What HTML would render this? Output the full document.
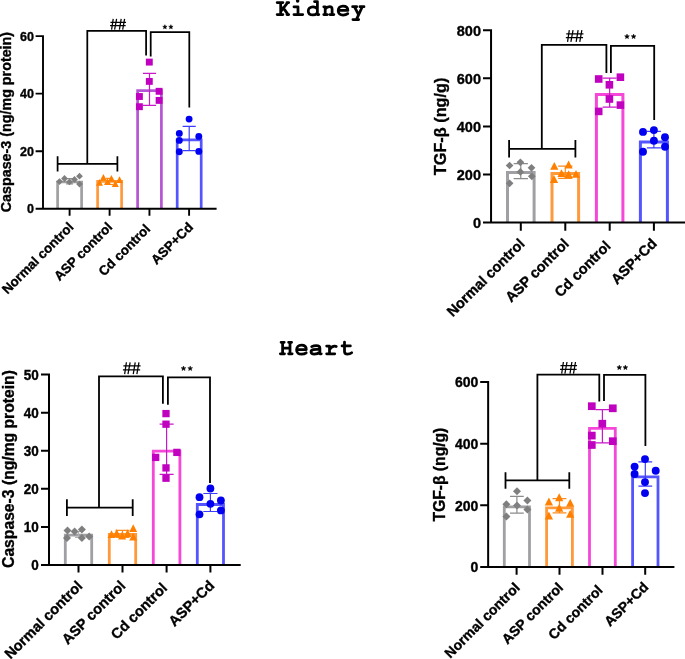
<!DOCTYPE html>
<html><head><meta charset="utf-8"><style>
html,body{margin:0;padding:0;background:#fff;width:685px;height:659px;overflow:hidden}
svg{display:block;will-change:transform;opacity:0.999}
.b{font-family:"Liberation Sans",sans-serif;font-weight:bold;fill:#000;stroke:#000;stroke-width:0.35px}
.r{font-family:"Liberation Sans",sans-serif;font-weight:normal;fill:#000}
</style></head><body>
<svg width="685" height="659" viewBox="0 0 685 659">
<rect width="685" height="659" fill="#fff"/>
<path d="M57.6,208.8 V182 H81.6 V208.8" fill="none" stroke="#a0a0a4" stroke-width="2.7" stroke-linejoin="miter" stroke-linecap="butt"/>
<path d="M97.6,208.8 V181.3 H121.6 V208.8" fill="none" stroke="#ff9a3c" stroke-width="2.7" stroke-linejoin="miter" stroke-linecap="butt"/>
<path d="M137.6,208.8 V90.7 H161.4 V208.8" fill="none" stroke="#b554d4" stroke-width="2.7" stroke-linejoin="miter" stroke-linecap="butt"/>
<path d="M177.2,208.8 V139.9 H201.2 V208.8" fill="none" stroke="#5555ff" stroke-width="2.7" stroke-linejoin="miter" stroke-linecap="butt"/>
<path d="M69.6,178.6 V183.8 M66.1,178.6 H73.1 M66.1,183.8 H73.1" stroke="#8c8c8c" stroke-width="1.2" fill="none"/>
<polygon points="59.5,178.2 62.9,181.6 59.5,185 56.1,181.6" fill="#7f7f7f"/>
<polygon points="64.5,175.1 67.9,178.5 64.5,181.9 61.1,178.5" fill="#7f7f7f"/>
<polygon points="69.5,178.5 72.9,181.9 69.5,185.3 66.1,181.9" fill="#7f7f7f"/>
<polygon points="74.5,176 77.9,179.4 74.5,182.8 71.1,179.4" fill="#7f7f7f"/>
<polygon points="79.5,172.8 82.9,176.2 79.5,179.6 76.1,176.2" fill="#7f7f7f"/>
<polygon points="79.5,180.7 82.9,184.1 79.5,187.5 76.1,184.1" fill="#7f7f7f"/>
<path d="M109.6,178.3 V184.5 M106.1,178.3 H113.1 M106.1,184.5 H113.1" stroke="#ff8a1c" stroke-width="1.2" fill="none"/>
<polygon points="99.5,179 103,185.8 96,185.8" fill="#ff8000"/>
<polygon points="103.4,174 106.9,180.8 99.9,180.8" fill="#ff8000"/>
<polygon points="111.4,174.9 114.9,181.7 107.9,181.7" fill="#ff8000"/>
<polygon points="107.5,178.2 111,185 104,185" fill="#ff8000"/>
<polygon points="115.3,180.2 118.8,187 111.8,187" fill="#ff8000"/>
<polygon points="119.5,176.2 123,183 116,183" fill="#ff8000"/>
<path d="M149.5,73.4 V105.4 M142.9,73.4 H156.1 M142.9,105.4 H156.1" stroke="#c818c8" stroke-width="1.2" fill="none"/>
<rect x="145.85" y="58.65" width="6.9" height="6.9" fill="#c000c0"/>
<rect x="145.85" y="77.95" width="6.9" height="6.9" fill="#c000c0"/>
<rect x="135.95" y="93.05" width="6.9" height="6.9" fill="#c000c0"/>
<rect x="155.65" y="87.85" width="6.9" height="6.9" fill="#c000c0"/>
<rect x="155.65" y="96.95" width="6.9" height="6.9" fill="#c000c0"/>
<rect x="135.95" y="103.25" width="6.9" height="6.9" fill="#c000c0"/>
<path d="M189.2,126.4 V150.6 M182.65,126.4 H195.75 M182.65,150.6 H195.75" stroke="#3c3cff" stroke-width="1.2" fill="none"/>
<circle cx="189.1" cy="119.1" r="3.45" fill="#0000f0"/>
<circle cx="179.3" cy="133.4" r="3.45" fill="#0000f0"/>
<circle cx="198.8" cy="136.4" r="3.45" fill="#0000f0"/>
<circle cx="179.3" cy="140.4" r="3.45" fill="#0000f0"/>
<circle cx="179.3" cy="151.7" r="3.45" fill="#0000f0"/>
<circle cx="198.8" cy="151.4" r="3.45" fill="#0000f0"/>
<path d="M43,35.15 V208.8 M35.6,208.8 H216.6 M35.6,208.8 H43 M35.6,151.2 H43 M35.6,93.65 H43 M35.6,36.1 H43 M69.6,208.8 V215.7 M109.6,208.8 V215.7 M149.45,208.8 V215.7 M189.1,208.8 V215.7" stroke="#000" stroke-width="1.9" fill="none" stroke-linecap="butt"/>
<text transform="translate(34,208.9) scale(1,1)" y="4.47" text-anchor="end" class="b" font-size="12.5">0</text>
<text transform="translate(34,151.3) scale(1,1)" y="4.47" text-anchor="end" class="b" font-size="12.5">20</text>
<text transform="translate(34,93.75) scale(1,1)" y="4.47" text-anchor="end" class="b" font-size="12.5">40</text>
<text transform="translate(34,36.2) scale(1,1)" y="4.47" text-anchor="end" class="b" font-size="12.5">60</text>
<text transform="translate(11.3,122.1) rotate(-90)" text-anchor="middle" class="b" font-size="14.3">Caspase-3 (ng/mg protein)</text>
<text transform="translate(74.4,227.9) rotate(-45)" text-anchor="end" class="b" font-size="13.3">Normal control</text>
<text transform="translate(113.2,227.9) rotate(-45)" text-anchor="end" class="b" font-size="13.3">ASP control</text>
<text transform="translate(151.05,229.8) rotate(-45)" text-anchor="end" class="b" font-size="13.3">Cd control</text>
<text transform="translate(193.9,227.9) rotate(-45)" text-anchor="end" class="b" font-size="13.3">ASP+Cd</text>
<path d="M57.6,163.8 H117.4 M57.6,156.2 V171.6 M117.4,156.2 V171.6" stroke="#000" stroke-width="1.75" fill="none"/>
<path d="M87.3,163.8 V30.9 H146.1 V55.5" stroke="#000" stroke-width="1.75" fill="none" stroke-linejoin="miter"/>
<path d="M150.7,56.5 V32.2 H189.3 V107.4" stroke="#000" stroke-width="1.75" fill="none" stroke-linejoin="miter"/>
<path d="M111.61,29.7 L113.21,18.94 M114.62,29.7 L116.59,18.94 M119.41,29.7 L121.2,18.94 M122.7,29.7 L124.58,18.94 M110.44,22.25 H126.04 M110.06,25.74 H125.66" stroke="#000" stroke-width="1.25" fill="none"/>
<polygon points="164.9,24.7 165.47,26.22 167.09,26.29 165.82,27.3 166.25,28.86 164.9,27.97 163.55,28.86 163.98,27.3 162.71,26.29 164.33,26.22" fill="#000" stroke="#000" stroke-width="0.5" stroke-linejoin="round"/>
<polygon points="170.9,24.7 171.47,26.22 173.09,26.29 171.82,27.3 172.25,28.86 170.9,27.97 169.55,28.86 169.98,27.3 168.71,26.29 170.33,26.22" fill="#000" stroke="#000" stroke-width="0.5" stroke-linejoin="round"/>
<path d="M507.5,222.6 V172.5 H534.1 V222.6" fill="none" stroke="#a0a0a4" stroke-width="3" stroke-linejoin="miter" stroke-linecap="butt"/>
<path d="M552,222.6 V173.4 H578.6 V222.6" fill="none" stroke="#ff9a3c" stroke-width="3" stroke-linejoin="miter" stroke-linecap="butt"/>
<path d="M596.4,222.6 V94.4 H622.9 V222.6" fill="none" stroke="#f548d8" stroke-width="3" stroke-linejoin="miter" stroke-linecap="butt"/>
<path d="M640.4,222.6 V141.9 H667.4 V222.6" fill="none" stroke="#5555ff" stroke-width="3" stroke-linejoin="miter" stroke-linecap="butt"/>
<path d="M520.8,163.6 V178.6 M513.65,163.6 H527.95 M513.65,178.6 H527.95" stroke="#8c8c8c" stroke-width="1.2" fill="none"/>
<polygon points="509.6,161.65 513.45,165.5 509.6,169.35 505.75,165.5" fill="#7f7f7f"/>
<polygon points="520.4,158.45 524.25,162.3 520.4,166.15 516.55,162.3" fill="#7f7f7f"/>
<polygon points="531.5,163.95 535.35,167.8 531.5,171.65 527.65,167.8" fill="#7f7f7f"/>
<polygon points="520.4,168.05 524.25,171.9 520.4,175.75 516.55,171.9" fill="#7f7f7f"/>
<polygon points="531.8,172.45 535.65,176.3 531.8,180.15 527.95,176.3" fill="#7f7f7f"/>
<polygon points="509.6,179.45 513.45,183.3 509.6,187.15 505.75,183.3" fill="#7f7f7f"/>
<path d="M565.3,166.2 V178.4 M558.15,166.2 H572.45 M558.15,178.4 H572.45" stroke="#ff8a1c" stroke-width="1.2" fill="none"/>
<polygon points="554.3,161.9 558.4,169.7 550.2,169.7" fill="#ff8000"/>
<polygon points="568.6,160.6 572.7,168.4 564.5,168.4" fill="#ff8000"/>
<polygon points="561.5,169.3 565.6,177.1 557.4,177.1" fill="#ff8000"/>
<polygon points="568.6,170.3 572.7,178.1 564.5,178.1" fill="#ff8000"/>
<polygon points="576,169.9 580.1,177.7 571.9,177.7" fill="#ff8000"/>
<polygon points="554,175.1 558.1,182.9 549.9,182.9" fill="#ff8000"/>
<path d="M609.65,78.2 V107.2 M602.65,78.2 H616.65 M602.65,107.2 H616.65" stroke="#c818c8" stroke-width="1.2" fill="none"/>
<rect x="594.9" y="75.2" width="7.6" height="7.6" fill="#c000c0"/>
<rect x="616.6" y="73.4" width="7.6" height="7.6" fill="#c000c0"/>
<rect x="605.6" y="81" width="7.6" height="7.6" fill="#c000c0"/>
<rect x="605.6" y="95.2" width="7.6" height="7.6" fill="#c000c0"/>
<rect x="616.6" y="101.3" width="7.6" height="7.6" fill="#c000c0"/>
<rect x="594.9" y="107.6" width="7.6" height="7.6" fill="#c000c0"/>
<path d="M653.9,131.4 V147.8 M646.9,131.4 H660.9 M646.9,147.8 H660.9" stroke="#3c3cff" stroke-width="1.2" fill="none"/>
<circle cx="643" cy="131.9" r="3.95" fill="#0000f0"/>
<circle cx="653.9" cy="130.1" r="3.95" fill="#0000f0"/>
<circle cx="665" cy="137.3" r="3.95" fill="#0000f0"/>
<circle cx="653.9" cy="140.8" r="3.95" fill="#0000f0"/>
<circle cx="665" cy="146.8" r="3.95" fill="#0000f0"/>
<circle cx="643" cy="151.7" r="3.95" fill="#0000f0"/>
<path d="M491.05,29.25 V222.6 M483,222.6 H685 M483,222.6 H491.05 M483,174.5 H491.05 M483,126.4 H491.05 M483,78.3 H491.05 M483,30.25 H491.05 M520.8,222.6 V230.7 M565.3,222.6 V230.7 M609.7,222.6 V230.7 M653.9,222.6 V230.7" stroke="#000" stroke-width="2" fill="none" stroke-linecap="butt"/>
<text transform="translate(481,223) scale(1,1)" y="5.19" text-anchor="end" class="b" font-size="14.5">0</text>
<text transform="translate(481,174.9) scale(1,1)" y="5.19" text-anchor="end" class="b" font-size="14.5">200</text>
<text transform="translate(481,126.8) scale(1,1)" y="5.19" text-anchor="end" class="b" font-size="14.5">400</text>
<text transform="translate(481,78.7) scale(1,1)" y="5.19" text-anchor="end" class="b" font-size="14.5">600</text>
<text transform="translate(481,30.65) scale(1,1)" y="5.19" text-anchor="end" class="b" font-size="14.5">800</text>
<text transform="translate(446.1,126.4) rotate(-90)" text-anchor="middle" class="b" font-size="16.3">TGF-β (ng/g)</text>
<text transform="translate(525.6,244.6) rotate(-45)" text-anchor="end" class="b" font-size="14.5">Normal control</text>
<text transform="translate(569.8,244.6) rotate(-45)" text-anchor="end" class="b" font-size="14.5">ASP control</text>
<text transform="translate(611.7,246.8) rotate(-45)" text-anchor="end" class="b" font-size="14.5">Cd control</text>
<text transform="translate(657.7,244.4) rotate(-45)" text-anchor="end" class="b" font-size="14.5">ASP+Cd</text>
<path d="M509.1,148.8 H575.4 M509.1,139.9 V157.4 M575.4,139.9 V157.4" stroke="#000" stroke-width="1.8" fill="none"/>
<path d="M541.8,148.8 V44.8 H606.4 V73" stroke="#000" stroke-width="1.8" fill="none" stroke-linejoin="miter"/>
<path d="M610.9,73 V45.8 H654.2 V119.9" stroke="#000" stroke-width="1.8" fill="none" stroke-linejoin="miter"/>
<path d="M567.55,41.9 L569.31,30.2 M570.87,41.9 L573.04,30.2 M576.15,41.9 L578.12,30.2 M579.78,41.9 L581.85,30.2 M566.26,33.8 H583.46 M565.84,37.6 H583.04" stroke="#000" stroke-width="1.25" fill="none"/>
<polygon points="627,34.1 627.62,35.75 629.38,35.83 628,36.92 628.47,38.62 627,37.65 625.53,38.62 626,36.92 624.62,35.83 626.38,35.75" fill="#000" stroke="#000" stroke-width="0.5" stroke-linejoin="round"/>
<polygon points="633.6,34.1 634.22,35.75 635.98,35.83 634.6,36.92 635.07,38.62 633.6,37.65 632.13,38.62 632.6,36.92 631.22,35.83 632.98,35.75" fill="#000" stroke="#000" stroke-width="0.5" stroke-linejoin="round"/>
<path d="M65.3,565 V535.2 H91.7 V565" fill="none" stroke="#a0a0a4" stroke-width="2.8" stroke-linejoin="miter" stroke-linecap="butt"/>
<path d="M109.3,565 V534.3 H135.7 V565" fill="none" stroke="#ff9a3c" stroke-width="2.8" stroke-linejoin="miter" stroke-linecap="butt"/>
<path d="M153.3,565 V451.2 H179.9 V565" fill="none" stroke="#f548d8" stroke-width="2.8" stroke-linejoin="miter" stroke-linecap="butt"/>
<path d="M197.3,565 V504.5 H223.5 V565" fill="none" stroke="#5555ff" stroke-width="2.8" stroke-linejoin="miter" stroke-linecap="butt"/>
<path d="M78.5,531.5 V537.3 M75.1,531.5 H81.9 M75.1,537.3 H81.9" stroke="#b0b0b0" stroke-width="1.2" fill="none"/>
<polygon points="67.5,526.4 71.5,530.4 67.5,534.4 63.5,530.4" fill="#7f7f7f"/>
<polygon points="74.6,527.4 78.6,531.4 74.6,535.4 70.6,531.4" fill="#7f7f7f"/>
<polygon points="81.9,525.4 85.9,529.4 81.9,533.4 77.9,529.4" fill="#7f7f7f"/>
<polygon points="67,534.1 71,538.1 67,542.1 63,538.1" fill="#7f7f7f"/>
<polygon points="81.9,534.1 85.9,538.1 81.9,542.1 77.9,538.1" fill="#7f7f7f"/>
<polygon points="89.2,532.6 93.2,536.6 89.2,540.6 85.2,536.6" fill="#7f7f7f"/>
<path d="M122.5,530.3 V537.5 M115.5,530.3 H129.5 M115.5,537.5 H129.5" stroke="#ff8a1c" stroke-width="1.2" fill="none"/>
<polygon points="111.5,530.3 115.45,538.1 107.55,538.1" fill="#ff8000"/>
<polygon points="116.7,529.1 120.65,536.9 112.75,536.9" fill="#ff8000"/>
<polygon points="122.1,531.6 126.05,539.4 118.15,539.4" fill="#ff8000"/>
<polygon points="127.6,529.3 131.55,537.1 123.65,537.1" fill="#ff8000"/>
<polygon points="133.2,524.3 137.15,532.1 129.25,532.1" fill="#ff8000"/>
<polygon points="133.2,532.8 137.15,540.6 129.25,540.6" fill="#ff8000"/>
<path d="M166.6,424.2 V474.3 M159.6,424.2 H173.6 M159.6,474.3 H173.6" stroke="#c818c8" stroke-width="1.2" fill="none"/>
<rect x="162.35" y="409.95" width="7.3" height="7.3" fill="#c000c0"/>
<rect x="162.35" y="420.55" width="7.3" height="7.3" fill="#c000c0"/>
<rect x="152.05" y="453.75" width="7.3" height="7.3" fill="#c000c0"/>
<rect x="173.25" y="448.75" width="7.3" height="7.3" fill="#c000c0"/>
<rect x="162.35" y="464.25" width="7.3" height="7.3" fill="#c000c0"/>
<rect x="162.35" y="474.55" width="7.3" height="7.3" fill="#c000c0"/>
<path d="M210.4,493.5 V511.5 M203.3,493.5 H217.5 M203.3,511.5 H217.5" stroke="#3c3cff" stroke-width="1.2" fill="none"/>
<circle cx="210.4" cy="488.5" r="3.9" fill="#0000f0"/>
<circle cx="199.5" cy="497.2" r="3.9" fill="#0000f0"/>
<circle cx="220.9" cy="500.5" r="3.9" fill="#0000f0"/>
<circle cx="210.4" cy="503.8" r="3.9" fill="#0000f0"/>
<circle cx="220.9" cy="510.4" r="3.9" fill="#0000f0"/>
<circle cx="199.5" cy="514.3" r="3.9" fill="#0000f0"/>
<path d="M49,373.6 V565 M41,565 H240.7 M41,565 H49 M41,526.9 H49 M41,488.8 H49 M41,450.7 H49 M41,412.7 H49 M41,374.6 H49 M78.5,565 V572.5 M122.5,565 V572.5 M166.6,565 V572.5 M210.4,565 V572.5" stroke="#000" stroke-width="2" fill="none" stroke-linecap="butt"/>
<text transform="translate(38.7,565) scale(1,1.1)" y="4.83" text-anchor="end" class="b" font-size="13.5">0</text>
<text transform="translate(38.7,526.9) scale(1,1.1)" y="4.83" text-anchor="end" class="b" font-size="13.5">10</text>
<text transform="translate(38.7,488.8) scale(1,1.1)" y="4.83" text-anchor="end" class="b" font-size="13.5">20</text>
<text transform="translate(38.7,450.7) scale(1,1.1)" y="4.83" text-anchor="end" class="b" font-size="13.5">30</text>
<text transform="translate(38.7,412.7) scale(1,1.1)" y="4.83" text-anchor="end" class="b" font-size="13.5">40</text>
<text transform="translate(38.7,374.6) scale(1,1.1)" y="4.83" text-anchor="end" class="b" font-size="13.5">50</text>
<text transform="translate(13.6,469) rotate(-90)" text-anchor="middle" class="b" font-size="15.7">Caspase-3 (ng/mg protein)</text>
<text transform="translate(83.3,586.9) rotate(-45)" text-anchor="end" class="b" font-size="14.5">Normal control</text>
<text transform="translate(126.3,586.7) rotate(-45)" text-anchor="end" class="b" font-size="14.5">ASP control</text>
<text transform="translate(168.1,589) rotate(-45)" text-anchor="end" class="b" font-size="14.5">Cd control</text>
<text transform="translate(215.2,586.4) rotate(-45)" text-anchor="end" class="b" font-size="14.5">ASP+Cd</text>
<path d="M66.9,507.7 H132.7 M66.9,499.3 V516 M132.7,499.3 V516" stroke="#000" stroke-width="1.8" fill="none"/>
<path d="M99,507.7 V376.4 H162.9 V403.8" stroke="#000" stroke-width="1.8" fill="none" stroke-linejoin="miter"/>
<path d="M167.9,404.8 V377.4 H210 V483" stroke="#000" stroke-width="1.8" fill="none" stroke-linejoin="miter"/>
<path d="M124.65,374.1 L126.41,362.28 M127.97,374.1 L130.14,362.28 M133.25,374.1 L135.22,362.28 M136.88,374.1 L138.95,362.28 M123.36,365.92 H140.56 M122.94,369.76 H140.14" stroke="#000" stroke-width="1.25" fill="none"/>
<polygon points="183.5,366 184.12,367.65 185.88,367.73 184.5,368.82 184.97,370.52 183.5,369.55 182.03,370.52 182.5,368.82 181.12,367.73 182.88,367.65" fill="#000" stroke="#000" stroke-width="0.5" stroke-linejoin="round"/>
<polygon points="190.2,366 190.82,367.65 192.58,367.73 191.2,368.82 191.67,370.52 190.2,369.55 188.73,370.52 189.2,368.82 187.82,367.73 189.58,367.65" fill="#000" stroke="#000" stroke-width="0.5" stroke-linejoin="round"/>
<path d="M504.3,567 V506.9 H529.5 V567" fill="none" stroke="#a0a0a4" stroke-width="2.8" stroke-linejoin="miter" stroke-linecap="butt"/>
<path d="M546.6,567 V507.8 H572.4 V567" fill="none" stroke="#ff9a3c" stroke-width="2.8" stroke-linejoin="miter" stroke-linecap="butt"/>
<path d="M589.5,567 V428.3 H615.3 V567" fill="none" stroke="#f548d8" stroke-width="2.8" stroke-linejoin="miter" stroke-linecap="butt"/>
<path d="M632.6,567 V476.9 H658 V567" fill="none" stroke="#5555ff" stroke-width="2.8" stroke-linejoin="miter" stroke-linecap="butt"/>
<path d="M516.9,496.4 V513.2 M510,496.4 H523.8 M510,513.2 H523.8" stroke="#8c8c8c" stroke-width="1.2" fill="none"/>
<polygon points="517,487.3 521,491.3 517,495.3 513,491.3" fill="#7f7f7f"/>
<polygon points="506.4,500.3 510.4,504.3 506.4,508.3 502.4,504.3" fill="#7f7f7f"/>
<polygon points="517,501.5 521,505.5 517,509.5 513,505.5" fill="#7f7f7f"/>
<polygon points="527.4,496.4 531.4,500.4 527.4,504.4 523.4,500.4" fill="#7f7f7f"/>
<polygon points="527.4,505.5 531.4,509.5 527.4,513.5 523.4,509.5" fill="#7f7f7f"/>
<polygon points="506.4,512.5 510.4,516.5 506.4,520.5 502.4,516.5" fill="#7f7f7f"/>
<path d="M559.5,498.6 V512.8 M552.6,498.6 H566.4 M552.6,512.8 H566.4" stroke="#ff8a1c" stroke-width="1.2" fill="none"/>
<polygon points="559.2,493.3 563.3,501.3 555.1,501.3" fill="#ff8000"/>
<polygon points="548.9,497.5 553,505.5 544.8,505.5" fill="#ff8000"/>
<polygon points="570.2,498.8 574.3,506.8 566.1,506.8" fill="#ff8000"/>
<polygon points="559.2,503.7 563.3,511.7 555.1,511.7" fill="#ff8000"/>
<polygon points="548.9,511.6 553,519.6 544.8,519.6" fill="#ff8000"/>
<polygon points="570.2,509.7 574.3,517.7 566.1,517.7" fill="#ff8000"/>
<path d="M602.4,409.7 V442.9 M595.4,409.7 H609.4 M595.4,442.9 H609.4" stroke="#c818c8" stroke-width="1.2" fill="none"/>
<rect x="587.95" y="402.35" width="7.7" height="7.7" fill="#c000c0"/>
<rect x="608.95" y="404.45" width="7.7" height="7.7" fill="#c000c0"/>
<rect x="598.45" y="419.85" width="7.7" height="7.7" fill="#c000c0"/>
<rect x="587.95" y="431.75" width="7.7" height="7.7" fill="#c000c0"/>
<rect x="608.95" y="437.35" width="7.7" height="7.7" fill="#c000c0"/>
<rect x="587.95" y="441.15" width="7.7" height="7.7" fill="#c000c0"/>
<path d="M645.3,461.9 V486.1 M638.4,461.9 H652.2 M638.4,486.1 H652.2" stroke="#3c3cff" stroke-width="1.2" fill="none"/>
<circle cx="645" cy="459.1" r="3.95" fill="#0000f0"/>
<circle cx="634.6" cy="466.6" r="3.95" fill="#0000f0"/>
<circle cx="655.7" cy="470.8" r="3.95" fill="#0000f0"/>
<circle cx="634.6" cy="474" r="3.95" fill="#0000f0"/>
<circle cx="645" cy="482.1" r="3.95" fill="#0000f0"/>
<circle cx="645" cy="493.1" r="3.95" fill="#0000f0"/>
<path d="M488.15,381 V567 M480.2,567 H674.4 M480.2,567 H488.15 M480.2,505.3 H488.15 M480.2,443.7 H488.15 M480.2,382 H488.15 M516.6,567 V574.7 M559.5,567 V574.7 M602.5,567 V574.7 M645.2,567 V574.7" stroke="#000" stroke-width="2" fill="none" stroke-linecap="butt"/>
<text transform="translate(478.3,567.4) scale(1,1)" y="5.01" text-anchor="end" class="b" font-size="14">0</text>
<text transform="translate(478.3,505.7) scale(1,1)" y="5.01" text-anchor="end" class="b" font-size="14">200</text>
<text transform="translate(478.3,444.1) scale(1,1)" y="5.01" text-anchor="end" class="b" font-size="14">400</text>
<text transform="translate(478.3,382.4) scale(1,1)" y="5.01" text-anchor="end" class="b" font-size="14">600</text>
<text transform="translate(445,474.6) rotate(-90)" text-anchor="middle" class="b" font-size="15.65">TGF-β (ng/g)</text>
<text transform="translate(520.7,588.5) rotate(-45)" text-anchor="end" class="b" font-size="14">Normal control</text>
<text transform="translate(564.1,588.5) rotate(-45)" text-anchor="end" class="b" font-size="14">ASP control</text>
<text transform="translate(603.6,591) rotate(-45)" text-anchor="end" class="b" font-size="14">Cd control</text>
<text transform="translate(649.3,587.9) rotate(-45)" text-anchor="end" class="b" font-size="14">ASP+Cd</text>
<path d="M505.5,480.3 H569.3 M505.5,472.3 V488.8 M569.3,472.3 V488.8" stroke="#000" stroke-width="1.8" fill="none"/>
<path d="M537.4,480.3 V374.6 H599.3 V401.5" stroke="#000" stroke-width="1.8" fill="none" stroke-linejoin="miter"/>
<path d="M604,401 V374.8 H645.4 V445.9" stroke="#000" stroke-width="1.8" fill="none" stroke-linejoin="miter"/>
<path d="M561.7,373.7 L563.4,362 M564.9,373.7 L567,362 M570,373.7 L571.9,362 M573.5,373.7 L575.5,362 M560.45,365.6 H577.05 M560.05,369.4 H576.65" stroke="#000" stroke-width="1.25" fill="none"/>
<polygon points="619.3,365.1 619.92,366.75 621.68,366.83 620.3,367.92 620.77,369.62 619.3,368.65 617.83,369.62 618.3,367.92 616.92,366.83 618.68,366.75" fill="#000" stroke="#000" stroke-width="0.5" stroke-linejoin="round"/>
<polygon points="625.4,365.1 626.02,366.75 627.78,366.83 626.4,367.92 626.87,369.62 625.4,368.65 623.93,369.62 624.4,367.92 623.02,366.83 624.78,366.75" fill="#000" stroke="#000" stroke-width="0.5" stroke-linejoin="round"/>
<g fill="none" stroke="#000" stroke-width="2.75" stroke-linecap="round" stroke-linejoin="round"><path transform="translate(275.30,15.90)" d="M5.4,-13.35 V-1.35 M1.85,-13.35 H7.6 M1.85,-1.35 H7.6 M6.4,-5.6 L12.3,-13.2 M11.65,-13.35 H13.45 M7.9,-8.3 L12.6,-1.5 M11.65,-1.35 H13.45"/><path transform="translate(290.30,15.90)" d="M7.7,-9.1 V-1.35 M3.65,-9.1 H7.7 M3.65,-1.35 H12.45"/><path transform="translate(305.30,15.90)" d="M12.1,-14.35 V-1.35 M9.2,-14.35 H12.1 M12.1,-1.35 H13.5 M12.1,-6.9 C11.2,-8.4 9.6,-9.1 7.7,-9.1 C4.8,-9.1 2.95,-7.3 2.95,-5.0 C2.95,-2.6 4.8,-1.0 7.6,-1.0 C9.5,-1.0 11.1,-1.8 12.1,-3.2"/><path transform="translate(320.30,15.90)" d="M4.9,-9.1 V-1.35 M3.45,-9.1 H4.9 M4.9,-6.8 C6.2,-8.6 7.9,-9.2 9.3,-9.2 C11,-9.2 11.8,-8.3 11.8,-6.6 V-1.35 M3.45,-1.35 H7.0 M9.7,-1.35 H13.55"/><path transform="translate(335.30,15.90)" d="M2.9,-5.5 H12.6 C12.6,-8.4 10.5,-9.9 7.7,-9.9 C4.8,-9.9 2.9,-7.9 2.9,-5.2 C2.9,-2.4 4.9,-0.9 7.8,-0.9 C9.8,-0.9 11.3,-1.4 12.5,-2.3"/><path transform="translate(350.30,15.90)" d="M2.3,-9.25 H6.4 M9.6,-9.25 H13.7 M4.2,-9.1 L8.2,-1.2 M12,-9.1 L6.2,3.5 M2.6,3.65 H8.4"/></g>
<g fill="none" stroke="#000" stroke-width="2.75" stroke-linecap="round" stroke-linejoin="round"><path transform="translate(278.70,355.10)" d="M3.9,-12.75 V-1.35 M11.3,-12.75 V-1.35 M2.35,-12.75 H5.5 M9.9,-12.75 H12.9 M1.65,-1.35 H5.8 M9.9,-1.35 H13.45 M3.9,-7.0 H11.3"/><path transform="translate(293.70,355.10)" d="M2.9,-5.5 H12.6 C12.6,-8.4 10.5,-9.9 7.7,-9.9 C4.8,-9.9 2.9,-7.9 2.9,-5.2 C2.9,-2.4 4.9,-0.9 7.8,-0.9 C9.8,-0.9 11.3,-1.4 12.5,-2.3"/><path transform="translate(308.70,355.10)" d="M3.0,-8.5 C4.5,-9.3 6.0,-9.6 7.5,-9.6 C10.0,-9.6 11.2,-8.6 11.2,-6.8 V-1.35 H12.55 M11.2,-5.6 C9.0,-5.9 6.5,-5.9 4.6,-5.4 C3.0,-5.0 2.3,-4.1 2.3,-3.1 C2.3,-1.7 3.6,-0.95 5.5,-0.95 C7.8,-0.95 9.8,-1.8 11.2,-3.0"/><path transform="translate(323.70,355.10)" d="M5.8,-9.1 V-1.35 M2.95,-9.1 H5.8 M2.95,-1.35 H11.05 M5.8,-5.6 C7.2,-7.9 9.0,-9.1 11.0,-9.1 C11.8,-9.1 12.3,-8.9 12.55,-8.6"/><path transform="translate(338.70,355.10)" d="M5.8,-13.0 V-3.6 C5.8,-1.7 6.8,-0.95 8.8,-0.95 C10.5,-0.95 11.9,-1.5 13.0,-2.4 M3.35,-9.2 H11.65"/></g>
<circle cx="297.65" cy="1.1" r="1.75" fill="#000"/>
</svg>
</body></html>
